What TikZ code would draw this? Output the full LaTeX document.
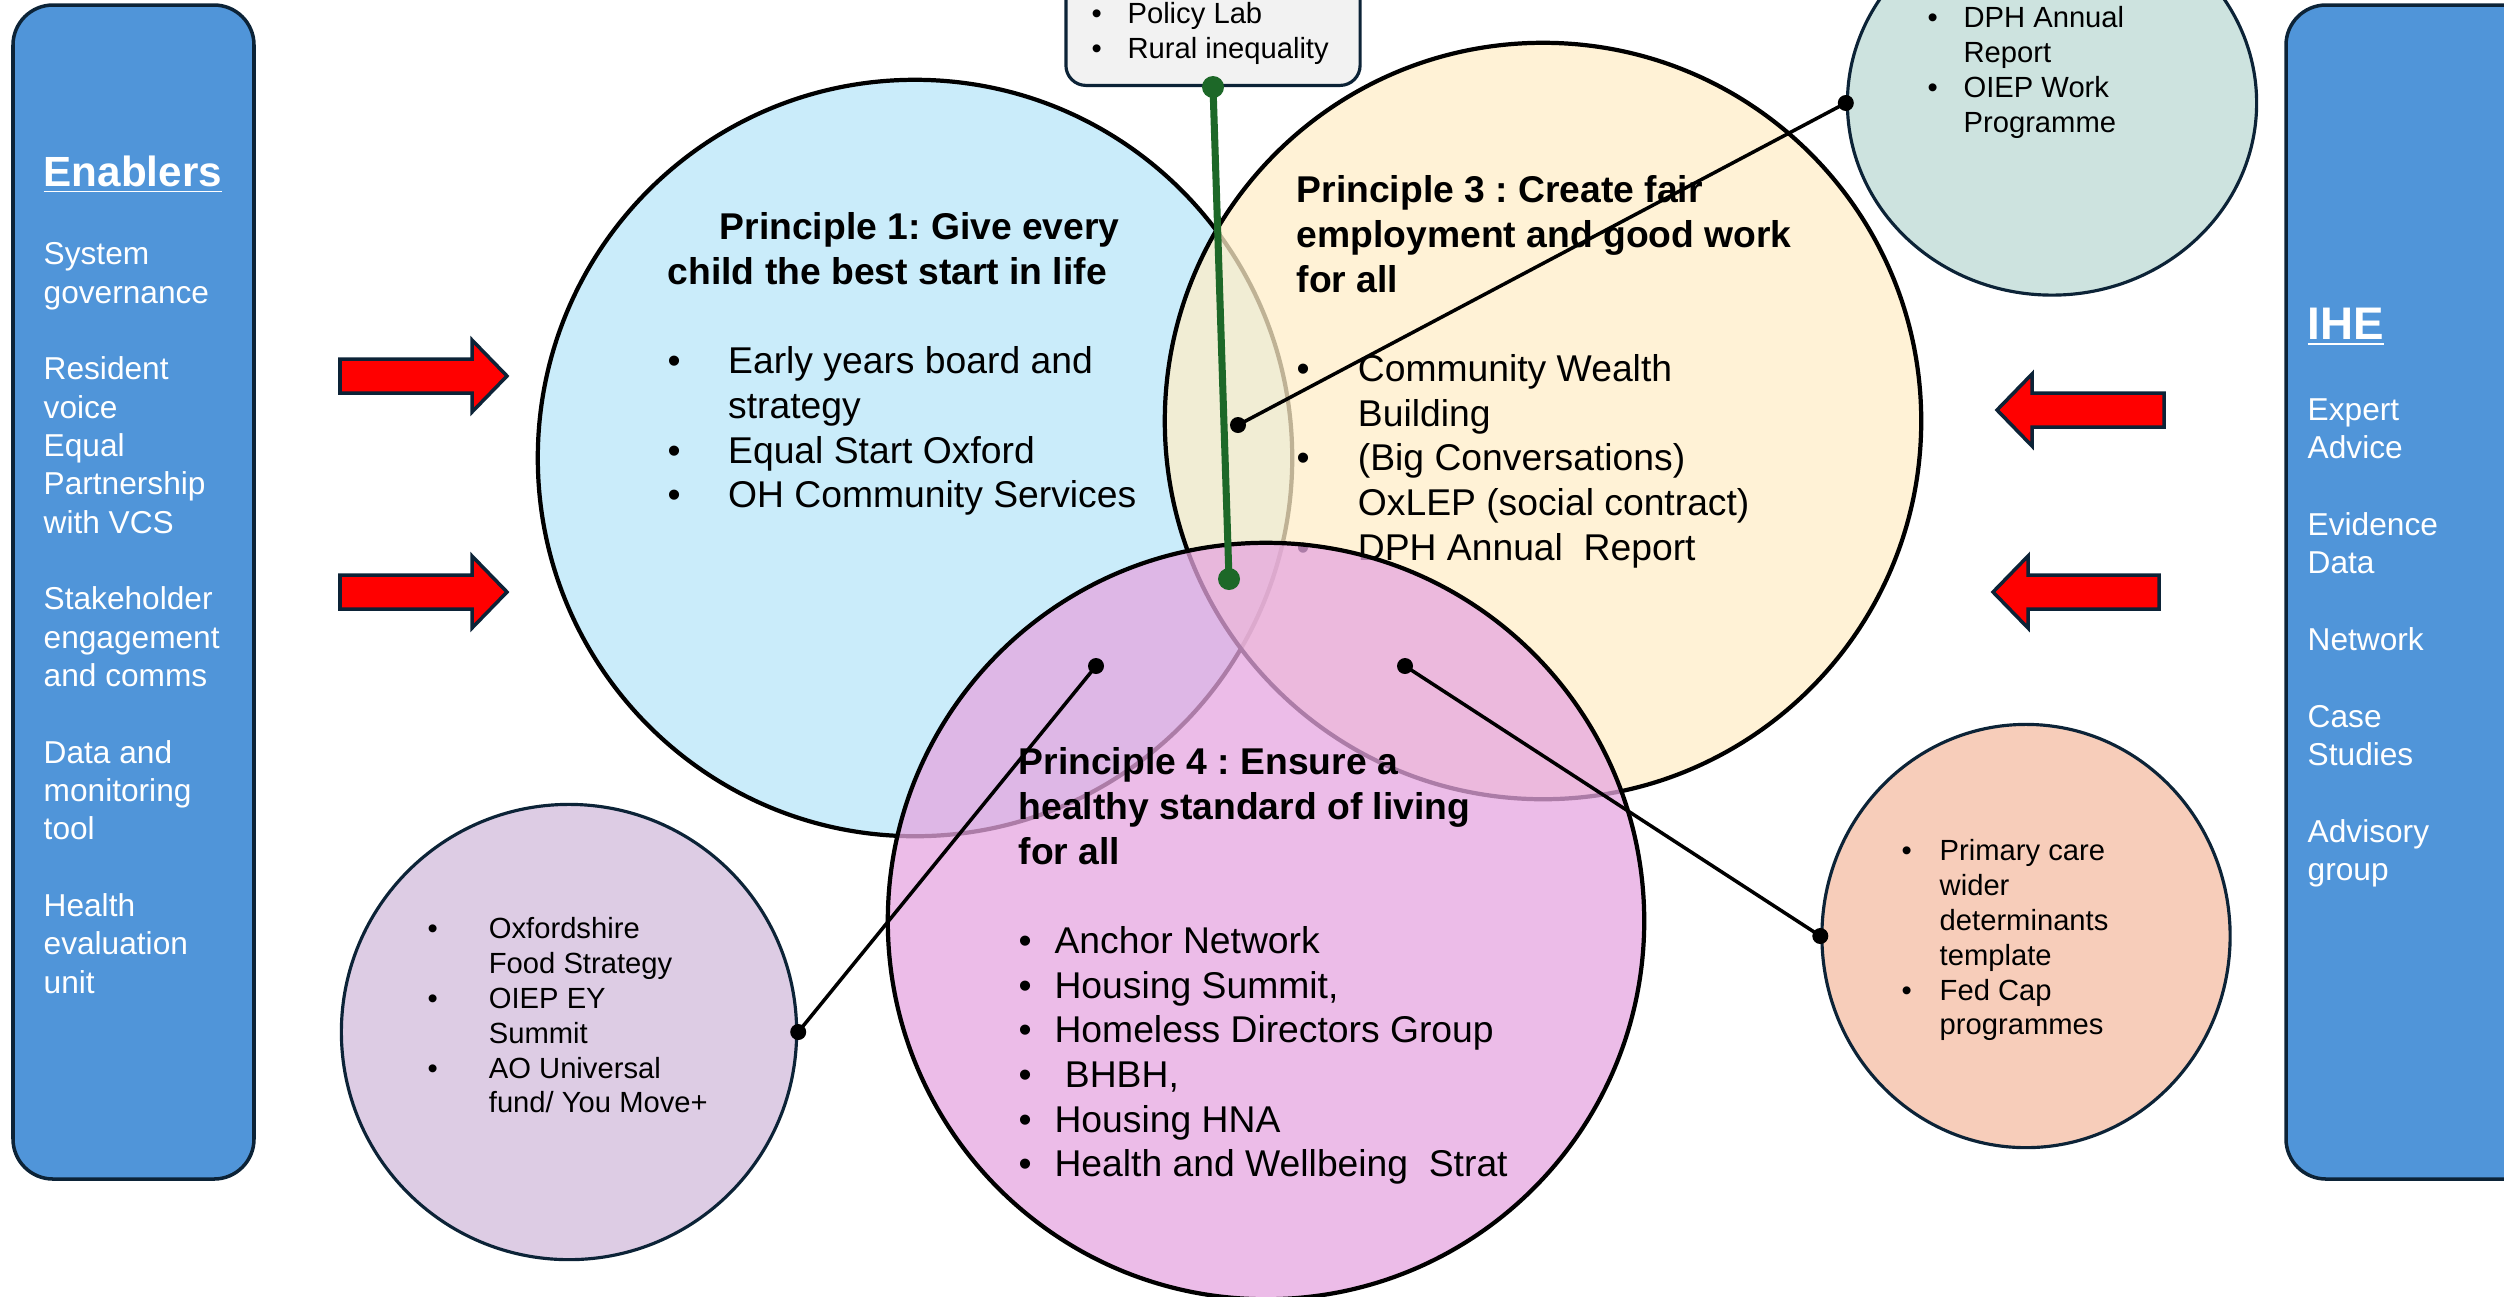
\documentclass[tikz,border=0pt]{standalone}
\usepackage{fontspec}
\setmainfont{Liberation Sans}
\frenchspacing
\usetikzlibrary{shapes.geometric}
\definecolor{sidebox}{RGB}{80,149,217}
\definecolor{edgenavy}{RGB}{12,35,55}
\definecolor{startblue}{RGB}{202,236,250}
\definecolor{workyellow}{RGB}{255,238,200}
\definecolor{livingpink}{RGB}{230,166,224}
\definecolor{dphgreen}{RGB}{205,227,223}
\definecolor{carepeach}{RGB}{247,205,186}
\definecolor{foodlilac}{RGB}{221,204,228}
\definecolor{labgrey}{RGB}{242,242,242}
\definecolor{linkgreen}{RGB}{29,104,40}
\newcommand{\bul}[1]{\makebox[#1][l]{\textbullet}}
\tikzset{
  sidepanel/.style={draw=edgenavy, line width=1pt, fill=sidebox, rounded corners=0.4cm},
  sidehead/.style={anchor=north west, inner sep=0pt, text=white, font=\bfseries\fontsize{12}{14}\selectfont},
  sidetext/.style={anchor=north west, inner sep=0pt, align=left, text=white, font=\fontsize{9}{10.9}\selectfont},
  principle/.style={draw=black, line width=1.2pt},
  printext/.style={anchor=north west, inner sep=0pt, align=left, font=\fontsize{10.6}{12.7}\selectfont},
  smallcirc/.style={ellipse, draw=edgenavy, line width=0.9pt, inner sep=0pt},
  smalltext/.style={anchor=north west, inner sep=0pt, align=left, font=\fontsize{8.3}{9.9}\selectfont},
  labbox/.style={draw=edgenavy, line width=0.9pt, fill=labgrey, rounded corners=0.2cm, inner sep=0pt},
  connector/.style={black, line width=1pt},
  greenlink/.style={linkgreen, line width=2pt},
  redarrow/.style={draw=edgenavy, line width=1pt, fill=red}
}
\begin{document}
\begin{tikzpicture}[x=0.01cm, y=-0.01cm]
\useasboundingbox (0,0) rectangle (2504,1296);
% side panels
\draw[sidepanel] (13,5) rectangle (254,1179);
\draw[sidepanel] (2286,5) rectangle (2580,1179);
\node[sidehead] (enabhead) at (43,155) {\underline{Enablers}};
\node[sidetext] (enablers) at (43,242) {System\\governance\\[10.9pt]Resident\\voice\\Equal\\Partnership\\with VCS\\[10.9pt]Stakeholder\\engagement\\and comms\\[10.9pt]Data and\\monitoring\\tool\\[10.9pt]Health\\evaluation\\unit};
\node[sidehead, font=\bfseries\fontsize{13}{15}\selectfont] (ihehead) at (2307,307) {\underline{IHE}};
\node[sidetext] (ihe) at (2307,398) {Expert\\Advice\\[10.9pt]Evidence\\Data\\[10.9pt]Network\\[10.9pt]Case\\Studies\\[10.9pt]Advisory\\group};
% red arrows
\foreach \y in {376,592}
  \draw[redarrow] (340,\y-17) -- (472,\y-17) -- (472,\y-36) -- (507,\y) -- (472,\y+36) -- (472,\y+17) -- (340,\y+17) -- cycle;
\foreach \tip/\tail/\y in {1997/2164/410, 1993/2159/592}
  \draw[redarrow] (\tail,\y-17) -- (\tip+35,\y-17) -- (\tip+35,\y-36) -- (\tip,\y) -- (\tip+35,\y+36) -- (\tip+35,\y+17) -- (\tail,\y+17) -- cycle;
% the three principles
\draw[principle, fill=startblue] (915,458) ellipse [x radius=3.77cm, y radius=3.78cm];
\draw[principle, fill=workyellow, fill opacity=0.75] (1543,421) ellipse [x radius=3.78cm, y radius=3.78cm];
\node[printext] (p3text) at (1296,175) {\textbf{Principle 3 : Create fair}\\\textbf{employment and good work}\\\textbf{for all}\\[12.7pt]\bul{17.4pt}Community Wealth\\\hspace*{17.4pt}Building\\\bul{17.4pt}(Big Conversations)\\\hspace*{17.4pt}OxLEP (social contract)\\\bul{17.4pt}DPH Annual\ \ Report};
\draw[principle, fill=livingpink, fill opacity=0.75] (1266,921) ellipse [x radius=3.78cm, y radius=3.78cm];
\node[printext] (p1text) at (667,212) {\textbf{\hspace*{14.8pt}Principle 1: Give every}\\\textbf{child the best start in life}\\[12.7pt]\bul{17.2pt}Early years board and\\\hspace*{17.2pt}strategy\\\bul{17.2pt}Equal Start Oxford\\\bul{17.2pt}OH Community Services};
\node[printext] (p4text) at (1018,747) {\textbf{Principle 4 : Ensure a}\\\textbf{healthy standard of living}\\\textbf{for all}\\[12.7pt]\bul{10.2pt}Anchor Network\\\bul{10.2pt}Housing Summit,\\\bul{10.2pt}Homeless Directors Group\\\bul{10.2pt}\ BHBH,\\\bul{10.2pt}Housing HNA\\\bul{10.2pt}Health and Wellbeing\ \ Strat};
% small circles
\node[smallcirc, fill=dphgreen, minimum width=4.09cm, minimum height=3.84cm] (dph) at (2052,103) {};
\node[smallcirc, fill=carepeach, minimum width=4.08cm, minimum height=4.23cm] (peach) at (2026,936) {};
\node[smallcirc, fill=foodlilac, minimum width=4.55cm, minimum height=4.55cm] (lilac) at (569,1032) {};
\node[smalltext] (dphtext) at (1927,6) {\bul{10.2pt}DPH Annual\\\hspace*{10.2pt}Report\\\bul{10.2pt}OIEP Work\\\hspace*{10.2pt}Programme};
\node[smalltext] (peachtext) at (1901,839) {\bul{10.8pt}Primary care\\\hspace*{10.8pt}wider\\\hspace*{10.8pt}determinants\\\hspace*{10.8pt}template\\\bul{10.8pt}Fed Cap\\\hspace*{10.8pt}programmes};
\node[smalltext] (lilactext) at (427,917) {\bul{17.4pt}Oxfordshire\\\hspace*{17.4pt}Food Strategy\\\bul{17.4pt}OIEP EY\\\hspace*{17.4pt}Summit\\\bul{17.4pt}AO Universal\\\hspace*{17.4pt}fund/ You Move+};
% policy lab box
\node[labbox, minimum width=2.94cm, minimum height=1.6cm, anchor=south] (policy) at (1213,87) {};
\node[smalltext] (policytext) at (1091,2) {\bul{10.2pt}Policy Lab\\\bul{10.2pt}Rural inequality};
% connectors
\coordinate (workdot) at (1238,425);
\coordinate (lilacdot) at (1096,666);
\coordinate (peachdot) at (1405,666);
\coordinate (greendot) at (1229,579);
\draw[greenlink] (policy.south) -- (greendot);
\fill[linkgreen] (policy.south) circle [radius=0.11cm];
\fill[linkgreen] (greendot) circle [radius=0.11cm];
\draw[connector] (dph.west) -- (workdot);
\draw[connector] (lilac.east) -- (lilacdot);
\draw[connector] (peach.west) -- (peachdot);
\foreach \p in {dph.west, workdot, lilac.east, lilacdot, peach.west, peachdot}
  \fill (\p) circle [radius=0.08cm];
\end{tikzpicture}
\end{document}
